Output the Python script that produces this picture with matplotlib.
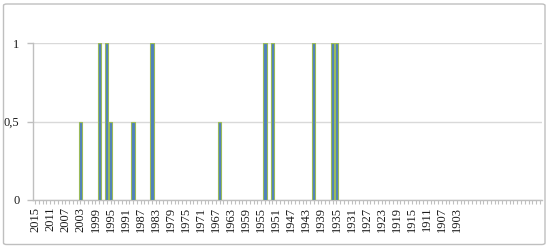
import matplotlib
matplotlib.use("Agg")
import matplotlib.pyplot as plt
from matplotlib.patches import FancyBboxPatch

# Categories (years, reversed order as in the chart)
categories = list(range(2015, 1880, -1))
label_years = [2015, 2011, 2007, 2003, 1999, 1995, 1991, 1987, 1983, 1979, 1975,
               1971, 1967, 1963, 1959, 1955, 1951, 1947, 1943, 1939, 1935, 1931,
               1927, 1923, 1919, 1915, 1911, 1907, 1903]

# Series values (years with non-zero values)
bar_years = [2003, 1998, 1996, 1995, 1989, 1984, 1966, 1954, 1952, 1941, 1936, 1935]
bar_values = [0.5, 1, 1, 0.5, 0.5, 1, 0.5, 1, 1, 1, 1, 1]

yticks = [0, 0.5, 1]
ytick_labels = ["0", "0,5", "1"]

plt.rcParams['font.family'] = ['Liberation Serif', 'DejaVu Serif']

W, H = 550, 248
fig = plt.figure(figsize=(W / 100, H / 100), dpi=100)

left, right, top, bottom = 33.3, 541.7, 43.3, 200.0
ax = fig.add_axes([left / W, (H - bottom) / H, (right - left) / W, (bottom - top) / H])
ax.set_facecolor('none')

idx = [categories.index(y) for y in bar_years]
ax.bar(idx, bar_values, width=0.85, color='#4F81BD', edgecolor='#9BBB59',
       linewidth=0.8, zorder=3)

ax.set_xlim(-0.5, len(categories) - 0.5)
ax.set_ylim(0, 1)

ax.set_yticks(yticks)
ax.set_yticklabels(ytick_labels, fontsize=9)
ax.yaxis.grid(True, color='#D9D9D9', linewidth=1.0, zorder=0)
ax.set_axisbelow(True)

ax.set_xticks(range(len(categories)))
ax.set_xticklabels([str(y) if y in label_years else '' for y in categories],
                   rotation=90, fontsize=9)

for s in ['top', 'right']:
    ax.spines[s].set_visible(False)
for s in ['left', 'bottom']:
    ax.spines[s].set_color('#BFBFBF')
    ax.spines[s].set_linewidth(1.0)

ax.tick_params(axis='x', direction='out', length=3, width=0.8, color='#BFBFBF',
               pad=2, labelcolor='#1a1a1a')
ax.tick_params(axis='y', direction='out', length=4, width=1.0, color='#BFBFBF',
               pad=6, labelcolor='#1a1a1a')

# chart border
border = FancyBboxPatch((3.5 / W, 3.5 / H), (545 - 3.5) / W, (244 - 3.5) / H,
                        boxstyle="round,pad=0,rounding_size=0.006",
                        transform=fig.transFigure, facecolor='none',
                        edgecolor='#BFBFBF', linewidth=1.0, zorder=10)
fig.add_artist(border)

fig.savefig('out.png', dpi=100, facecolor='white')
